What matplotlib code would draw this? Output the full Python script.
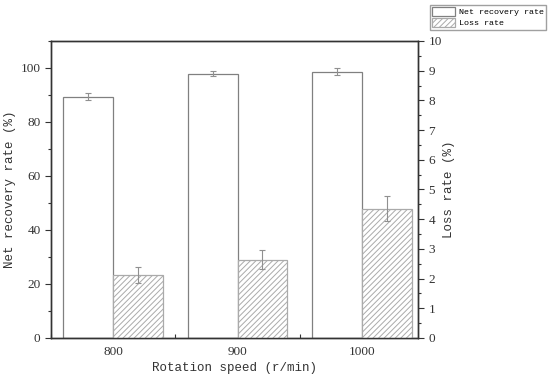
import numpy as np
import matplotlib
matplotlib.use("Agg")
from matplotlib import pyplot as plt
from matplotlib.ticker import MultipleLocator

speeds = ["800", "900", "1000"]
net_recovery = [89.4, 97.9, 98.7]
net_err = [1.3, 1.0, 1.2]
loss_rate = [2.13, 2.64, 4.35]
loss_err = [0.27, 0.31, 0.42]

plt.rcParams["hatch.color"] = "#999999"
plt.rcParams["hatch.linewidth"] = 0.7
mono = "Liberation Mono"
serif = "Liberation Serif"
txt = "#333333"

fig = plt.figure(figsize=(5.5, 3.85), dpi=100)
ax = fig.add_axes([51 / 550, 47 / 385, 367 / 550, 297 / 385])
ax2 = ax.twinx()

x = np.arange(1, len(speeds) + 1)
w = 0.4
edge = "#808080"
ax.bar(x - w / 2, net_recovery, w, color="white", edgecolor=edge, linewidth=0.9,
       label="Net recovery rate", zorder=2)
ax.errorbar(x - w / 2, net_recovery, yerr=net_err, fmt="none", ecolor="#909090",
            elinewidth=0.8, capsize=2.5, capthick=0.8, zorder=3)
ax2.bar(x + w / 2, loss_rate, w, color="white", edgecolor="#aaaaaa", hatch="//////",
        linewidth=0.9, label="Loss rate", zorder=2)
ax2.errorbar(x + w / 2, loss_rate, yerr=loss_err, fmt="none", ecolor="#909090",
             elinewidth=0.8, capsize=2.5, capthick=0.8, zorder=3)

ax.set_xlim(0.5, 3.45)
ax.set_ylim(0, 110)
ax2.set_ylim(0, 10)
ax.set_xticks(x)
ax.set_xticklabels(speeds, fontfamily=serif, fontsize=9.5)
ax.xaxis.set_minor_locator(MultipleLocator(0.5))
ax.yaxis.set_major_locator(MultipleLocator(20))
ax.yaxis.set_minor_locator(MultipleLocator(10))
ax2.yaxis.set_major_locator(MultipleLocator(1))
ax2.yaxis.set_minor_locator(MultipleLocator(0.5))

for lab in ax.get_yticklabels() + ax2.get_yticklabels():
    lab.set_fontfamily(serif)
    lab.set_fontsize(9.5)

ax.tick_params(axis="y", direction="out", length=4, width=0.8, colors="#333333", labelcolor=txt)
ax.tick_params(axis="y", which="minor", direction="out", length=2, width=0.8, colors="#333333")
ax.tick_params(axis="x", direction="in", length=4, width=0.8, top=False, colors="#333333",
               labelcolor=txt, pad=6)
ax.tick_params(axis="x", which="minor", direction="in", length=3, width=0.8, colors="#333333")
ax2.tick_params(axis="y", direction="out", length=4, width=0.8, colors="#333333", labelcolor=txt)
ax2.tick_params(axis="y", which="minor", direction="out", length=2, width=0.8, colors="#333333")

for a in (ax, ax2):
    for s in a.spines.values():
        s.set_linewidth(1.0)
        s.set_color("#333333")

ax.set_xlabel("Rotation speed (r/min)", fontfamily=mono, fontsize=9, color=txt, labelpad=3)
ax.set_ylabel("Net recovery rate (%)", fontfamily=mono, fontsize=9, color=txt, labelpad=3)
ax2.set_ylabel("Loss rate (%)", fontfamily=mono, fontsize=9, color=txt, labelpad=1)

h1, l1 = ax.get_legend_handles_labels()
h2, l2 = ax2.get_legend_handles_labels()
fig.legend(h1 + h2, l1 + l2, loc="upper right", bbox_to_anchor=(546 / 550, 1 - 5 / 385),
           prop={"family": mono, "size": 6}, frameon=True, fancybox=False,
           edgecolor="#888888", borderpad=0.25, labelspacing=0.2, handlelength=2.7,
           handleheight=1.3, handletextpad=0.5, borderaxespad=0)

fig.savefig("out.png", dpi=100)
